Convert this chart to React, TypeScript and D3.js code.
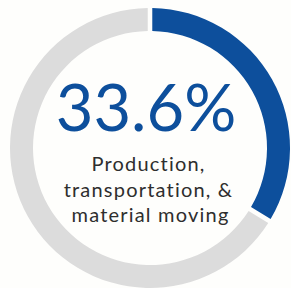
import React from "react";
import * as d3 from "d3";

// values
const shares = [33.6, 66.4];
const shareNames = ["Production, transportation, & material moving", "Other"];
const labelLines = ["Production,", "transportation, &", "material moving"];
const colors = ["#0d4f9c", "#dcdcdc"];

const width = 291;
const height = 288;

const App = () => {
  const cx = 150;
  const cy = 148;
  const outer = 140;
  const inner = 117;

  const pie = d3
    .pie<number>()
    .sort(null)
    .value((d) => d)
    .padAngle(0.025);

  const arc = d3
    .arc<d3.PieArcDatum<number>>()
    .innerRadius(inner)
    .outerRadius(outer);

  const slices = pie(shares);

  return (
    <svg
      width={width}
      height={height}
      style={{ position: "fixed", left: 0, top: 0, background: "#fefefc" }}
    >
      <g transform={`translate(${cx},${cy})`}>
        {slices.map((s, i) => (
          <path key={shareNames[i]} d={arc(s) || ""} fill={colors[i]} />
        ))}
      </g>
      <text
        x={146}
        y={131}
        textAnchor="middle"
        fill="#0d4f9c"
        style={{ font: "65px Lato" }}
      >
        {d3.format(".1f")(shares[0])}%
      </text>
      {labelLines.map((t, i) => (
        <text
          key={t}
          x={148.5 + (i === 2 ? 2 : 0)}
          y={171 + i * 25.5}
          textAnchor="middle"
          fill="#2e2e2e"
          style={{ font: "20px Lato", letterSpacing: "1.2px" }}
        >
          {t}
        </text>
      ))}
    </svg>
  );
};

export default App;
